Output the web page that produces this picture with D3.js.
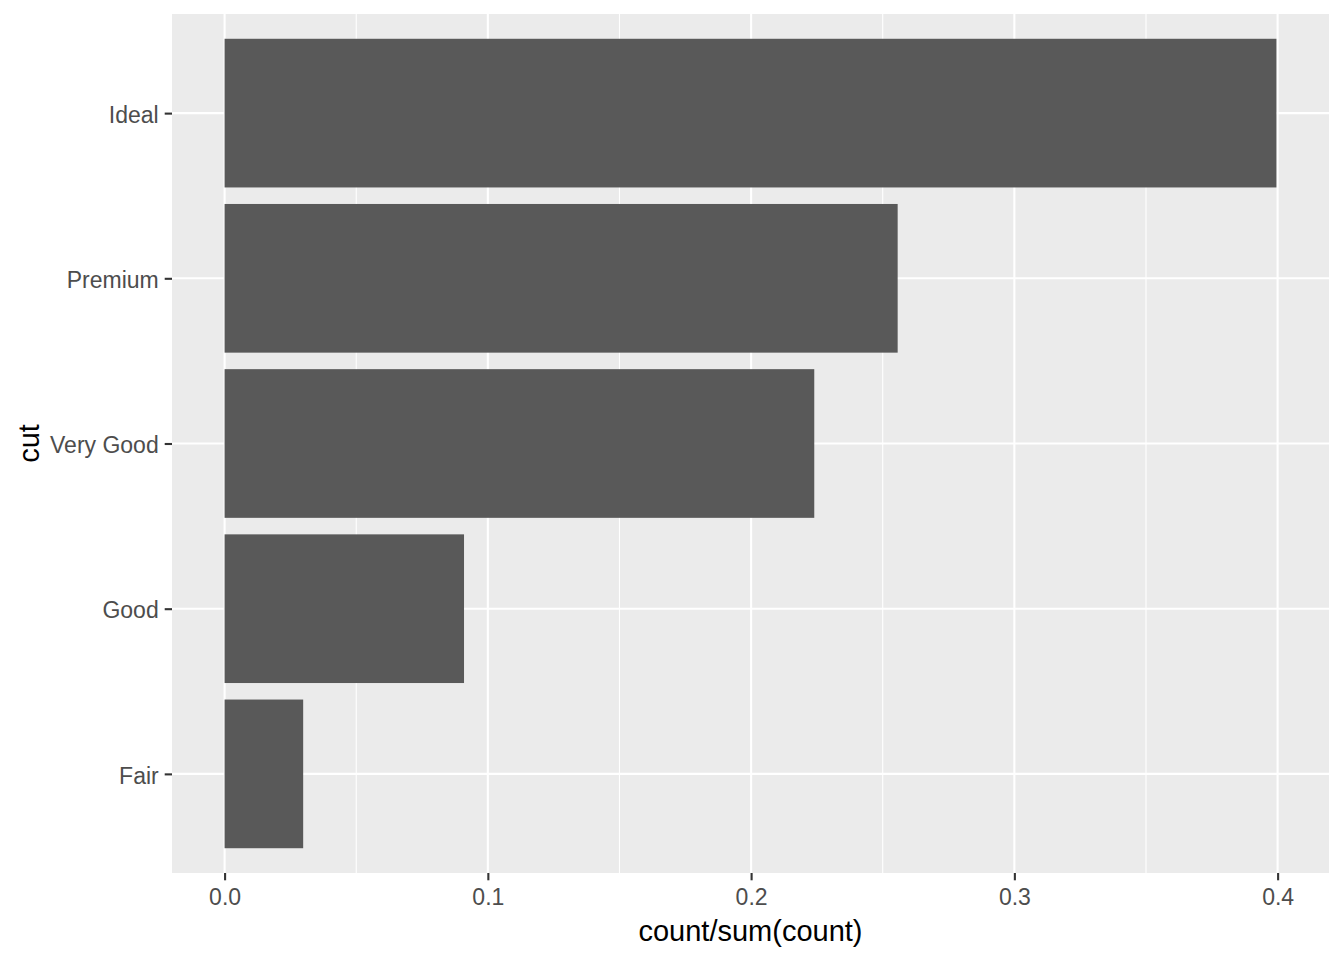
<!DOCTYPE html>
<html><head><meta charset="utf-8">
<script src="https://cdn.jsdelivr.net/npm/d3@7"></script>
<style>body{margin:0;background:#fff}svg{display:block}text{font-family:"Liberation Sans",Arial,sans-serif}</style>
</head><body><svg id="c" width="1344" height="960"></svg>
<script>
const categories = ["Fair", "Good", "Very Good", "Premium", "Ideal"];
const values = [0.02985, 0.09095, 0.22399, 0.25567, 0.39954];
const xTicks = [0.0, 0.1, 0.2, 0.3, 0.4];
const xMinor = [0.05, 0.15, 0.25, 0.35];

const svg = d3.select("#c");
const L = 172, R = 1329, T = 14, B = 873;
const maxV = d3.max(values);
const x = d3.scaleLinear().domain([-0.05 * maxV, maxV * 1.05]).range([L, R]);
const y = d3.scaleLinear().domain([0.4, categories.length + 0.6]).range([B, T]);

svg.append("rect").attr("x", L).attr("y", T).attr("width", R - L).attr("height", B - T).attr("fill", "#EBEBEB");

svg.selectAll(".minor").data(xMinor).enter().append("line")
  .attr("x1", d => x(d)).attr("x2", d => x(d)).attr("y1", T).attr("y2", B)
  .attr("stroke", "#fff").attr("stroke-width", 1.1);
svg.selectAll(".majx").data(xTicks).enter().append("line")
  .attr("x1", d => x(d)).attr("x2", d => x(d)).attr("y1", T).attr("y2", B)
  .attr("stroke", "#fff").attr("stroke-width", 2.1);
svg.selectAll(".majy").data(categories).enter().append("line")
  .attr("y1", (d, i) => y(i + 1)).attr("y2", (d, i) => y(i + 1)).attr("x1", L).attr("x2", R)
  .attr("stroke", "#fff").attr("stroke-width", 2.1);

svg.selectAll(".bar").data(values).enter().append("rect")
  .attr("x", x(0)).attr("width", d => x(d) - x(0))
  .attr("y", (d, i) => y(i + 1 + 0.45)).attr("height", (d, i) => y(i + 1 - 0.45) - y(i + 1 + 0.45))
  .attr("fill", "#595959");

// x axis
const xa = svg.append("g").attr("transform", `translate(0,${B})`)
  .call(d3.axisBottom(x).tickValues(xTicks).tickFormat(d3.format(".1f")).tickSize(7.3).tickPadding(8));
xa.select(".domain").remove();
xa.selectAll("line").attr("stroke", "#333").attr("stroke-width", 2.1);
xa.selectAll("text").attr("fill", "#4D4D4D").style("font-size", "23px");

// y axis
const ya = svg.append("g").attr("transform", `translate(${L},0)`)
  .call(d3.axisLeft(d3.scalePoint().domain(categories).range([y(1), y(categories.length)]))
    .tickSize(7.3).tickPadding(6));
ya.select(".domain").remove();
ya.selectAll("line").attr("stroke", "#333").attr("stroke-width", 2.1);
ya.selectAll("text").attr("fill", "#4D4D4D").style("font-size", "23px").attr("dy", "0.4em");

svg.append("text").attr("x", (L + R) / 2).attr("y", 941).attr("text-anchor", "middle")
  .style("font-size", "29px").attr("fill", "#000").text("count/sum(count)");
svg.append("text").attr("transform", `translate(39,${(T + B) / 2}) rotate(-90)`).attr("text-anchor", "middle")
  .style("font-size", "29px").attr("fill", "#000").text("cut");
</script></body></html>
